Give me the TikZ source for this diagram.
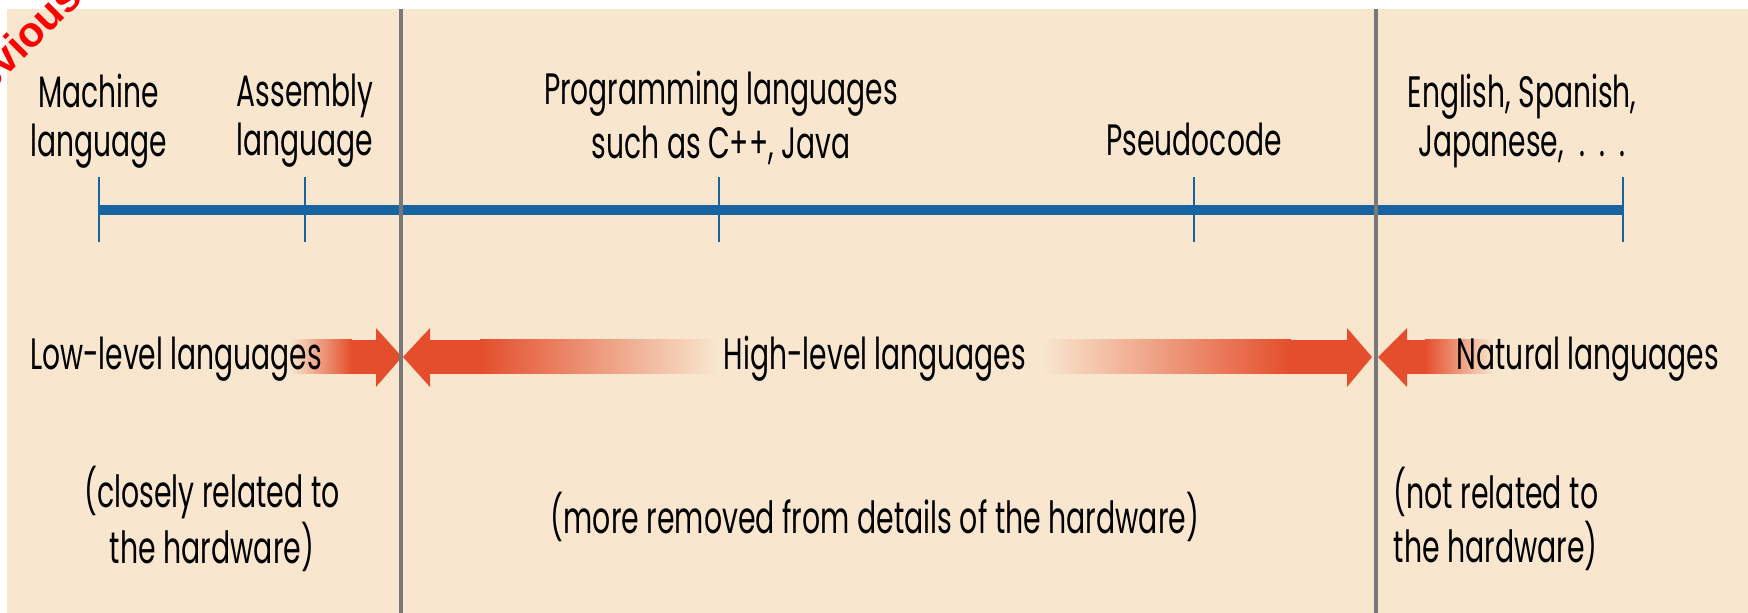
\documentclass[tikz,border=0pt]{standalone}
\usepackage{fontspec}
\setmainfont{Poppins}[FakeStretch=0.64]
\newfontfamily\navfont{Liberation Sans}
\usetikzlibrary{positioning}

\definecolor{paper}{RGB}{248,230,206}
\definecolor{scaleblue}{RGB}{23,100,160}
\definecolor{divgray}{RGB}{120,120,120}
\definecolor{arrowred}{RGB}{228,78,44}

\begin{document}
\begin{tikzpicture}[x=0.01cm, y=-0.01cm,
  toptext/.style={font=\fontsize{12.5}{14}\selectfont, align=center, inner sep=0pt},
  midtext/.style={font=\fontsize{12.5}{14}\selectfont, inner sep=0pt, anchor=base},
  bottext/.style={font=\fontsize{12.6}{12}\selectfont, inner sep=0pt},
  scaletick/.style={draw=scaleblue, line width=0.6pt},
  divline/.style={draw=divgray, line width=0.9pt}]
\useasboundingbox (0,0) rectangle (1748,613);
\fill[paper] (7,9) rectangle (1748,613);

% the scale
\coordinate (mach) at (99,210);
\coordinate (nat) at (1623,210);
\draw[scaleblue, line width=2.6pt] (mach) -- (nat);
\foreach \x in {99,305,719,1194,1623}
  \draw[scaletick] (\x,177) -- (\x,242);

\node[toptext] (machine) at (99,121) {Machine\\language};
\node[toptext] (assembly) at (305,121) {Assembly\\language};
\node[toptext, font=\fontsize{12.5}{15.3}\selectfont] (prog) at (721,118)
  {Programming languages\\such as C++, Java};
\node[toptext, anchor=base] (pseudo) at (1194,156) {Pseudocode};
\node[toptext] (english) at (1522,121)
  {English, Spanish,\\Japanese,\hspace{4.5pt}.\hspace{4pt}.\hspace{4pt}.};

% arrows
\coordinate (lowtip) at (402,357);
\shade[left color=paper, right color=arrowred] (290,340) rectangle (352,374);
\fill[arrowred] (351,340) rectangle (377,374);
\fill[arrowred] (376,328) -- (lowtip) -- (376,387) -- cycle;

\coordinate (highl) at (403,357);
\coordinate (highr) at (1372,357);
\fill[arrowred] (430,328) -- (highl) -- (430,387) -- cycle;
\fill[arrowred] (429,340) rectangle (481,374);
\shade[left color=arrowred, right color=paper] (480,340) rectangle (717,374);
\shade[left color=paper, right color=arrowred] (1043,340) rectangle (1291,374);
\fill[arrowred] (1290,340) rectangle (1348,374);
\fill[arrowred] (1347,328) -- (highr) -- (1347,387) -- cycle;

\coordinate (nattip) at (1378,357);
\fill[arrowred] (1407,328) -- (nattip) -- (1407,387) -- cycle;
\fill[arrowred] (1406,340) rectangle (1426,374);
\shade[left color=arrowred, right color=paper] (1425,340) rectangle (1493,374);

\node[midtext] (low) at (176,370) {Low-level languages};
\node[midtext] (high) at (875,370) {High-level languages};
\node[midtext] (natural) at (1588,370) {Natural languages};

% what each group is
\node[bottext, align=center] (lownote) at (212,519) {(closely related to\\the hardware)};
\node[bottext, anchor=base] (highnote) at (875,534) {(more removed from details of the hardware)};
\node[bottext, align=left, anchor=west] (natnote) at (1393,519) {(not related to\\the hardware)};

% dividers
\draw[divline] (401,9) -- (401,613);
\draw[divline] (1376,9) -- (1376,613);

\node[rotate=45, text=red, font=\navfont\bfseries\fontsize{12}{14}\selectfont] (prev) at (10,52) {Previous};
\end{tikzpicture}
\end{document}
